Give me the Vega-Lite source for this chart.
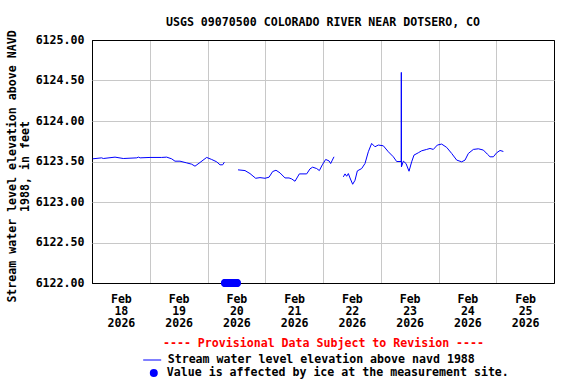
{
  "$schema": "https://vega.github.io/schema/vega-lite/v6.json",
  "width": 462,
  "height": 243,
  "autosize": {"type": "none"},
  "padding": {"left": 92, "top": 40, "right": 22, "bottom": 101},
  "background": "white",
  "title": {
    "text": "USGS 09070500 COLORADO RIVER NEAR DOTSERO, CO",
    "font": "DejaVu Sans Mono",
    "fontSize": 11.6,
    "fontWeight": "bold",
    "color": "black",
    "anchor": "middle",
    "frame": "group",
    "offset": 1
  },
  "config": {
    "view": {"stroke": "black", "strokeWidth": 1},
    "axis": {
      "labelFont": "DejaVu Sans Mono",
      "labelFontSize": 11.6,
      "labelFontWeight": "bold",
      "labelColor": "black",
      "titleFont": "DejaVu Sans Mono",
      "titleFontSize": 11.6,
      "titleFontWeight": "bold",
      "titleColor": "black",
      "gridWidth": 1,
      "gridOpacity": 1,
      "ticks": false,
      "domain": false
    }
  },
  "datasets": {
    "line": [
      {"t": "2026-02-18T00:17:00", "v": 6123.533, "s": 1},
      {"t": "2026-02-18T04:00:00", "v": 6123.545, "s": 1},
      {"t": "2026-02-18T04:42:00", "v": 6123.537, "s": 1},
      {"t": "2026-02-18T09:34:00", "v": 6123.554, "s": 1},
      {"t": "2026-02-18T13:00:00", "v": 6123.537, "s": 1},
      {"t": "2026-02-18T18:36:00", "v": 6123.545, "s": 1},
      {"t": "2026-02-18T19:18:00", "v": 6123.554, "s": 1},
      {"t": "2026-02-18T20:00:00", "v": 6123.545, "s": 1},
      {"t": "2026-02-19T00:06:00", "v": 6123.550, "s": 1},
      {"t": "2026-02-19T04:57:00", "v": 6123.550, "s": 1},
      {"t": "2026-02-19T07:02:00", "v": 6123.554, "s": 1},
      {"t": "2026-02-19T09:06:00", "v": 6123.533, "s": 1},
      {"t": "2026-02-19T10:29:00", "v": 6123.504, "s": 1},
      {"t": "2026-02-19T12:34:00", "v": 6123.504, "s": 1},
      {"t": "2026-02-19T15:20:00", "v": 6123.483, "s": 1},
      {"t": "2026-02-19T17:25:00", "v": 6123.467, "s": 1},
      {"t": "2026-02-19T18:48:00", "v": 6123.442, "s": 1},
      {"t": "2026-02-19T20:53:00", "v": 6123.488, "s": 1},
      {"t": "2026-02-19T23:39:00", "v": 6123.550, "s": 1},
      {"t": "2026-02-20T01:44:00", "v": 6123.525, "s": 1},
      {"t": "2026-02-20T03:49:00", "v": 6123.496, "s": 1},
      {"t": "2026-02-20T05:12:00", "v": 6123.459, "s": 1},
      {"t": "2026-02-20T06:18:00", "v": 6123.459, "s": 1},
      {"t": "2026-02-20T07:00:00", "v": 6123.492, "s": 1},
      {"t": "2026-02-20T12:41:00", "v": 6123.397, "s": 2},
      {"t": "2026-02-20T15:35:00", "v": 6123.388, "s": 2},
      {"t": "2026-02-20T17:40:00", "v": 6123.351, "s": 2},
      {"t": "2026-02-20T20:01:00", "v": 6123.293, "s": 2},
      {"t": "2026-02-20T21:49:00", "v": 6123.301, "s": 2},
      {"t": "2026-02-20T23:54:00", "v": 6123.293, "s": 2},
      {"t": "2026-02-21T01:34:00", "v": 6123.306, "s": 2},
      {"t": "2026-02-21T03:05:00", "v": 6123.376, "s": 2},
      {"t": "2026-02-21T04:28:00", "v": 6123.392, "s": 2},
      {"t": "2026-02-21T06:08:00", "v": 6123.359, "s": 2},
      {"t": "2026-02-21T08:13:00", "v": 6123.297, "s": 2},
      {"t": "2026-02-21T09:53:00", "v": 6123.297, "s": 2},
      {"t": "2026-02-21T10:59:00", "v": 6123.285, "s": 2},
      {"t": "2026-02-21T12:22:00", "v": 6123.256, "s": 2},
      {"t": "2026-02-21T14:10:00", "v": 6123.347, "s": 2},
      {"t": "2026-02-21T17:13:00", "v": 6123.347, "s": 2},
      {"t": "2026-02-21T18:36:00", "v": 6123.409, "s": 2},
      {"t": "2026-02-21T19:42:00", "v": 6123.430, "s": 2},
      {"t": "2026-02-21T21:22:00", "v": 6123.413, "s": 2},
      {"t": "2026-02-21T22:29:00", "v": 6123.388, "s": 2},
      {"t": "2026-02-21T23:43:00", "v": 6123.459, "s": 2},
      {"t": "2026-02-22T01:06:00", "v": 6123.525, "s": 2},
      {"t": "2026-02-22T02:29:00", "v": 6123.508, "s": 2},
      {"t": "2026-02-22T03:11:00", "v": 6123.475, "s": 2},
      {"t": "2026-02-22T03:53:00", "v": 6123.517, "s": 2},
      {"t": "2026-02-22T04:34:00", "v": 6123.558, "s": 2},
      {"t": "2026-02-22T08:27:00", "v": 6123.310, "s": 3},
      {"t": "2026-02-22T09:09:00", "v": 6123.347, "s": 3},
      {"t": "2026-02-22T09:50:00", "v": 6123.318, "s": 3},
      {"t": "2026-02-22T10:32:00", "v": 6123.351, "s": 3},
      {"t": "2026-02-22T11:13:00", "v": 6123.297, "s": 3},
      {"t": "2026-02-22T12:20:00", "v": 6123.219, "s": 3},
      {"t": "2026-02-22T13:18:00", "v": 6123.268, "s": 3},
      {"t": "2026-02-22T14:16:00", "v": 6123.384, "s": 3},
      {"t": "2026-02-22T16:04:00", "v": 6123.413, "s": 3},
      {"t": "2026-02-22T17:27:00", "v": 6123.475, "s": 3},
      {"t": "2026-02-22T18:50:00", "v": 6123.620, "s": 3},
      {"t": "2026-02-22T20:13:00", "v": 6123.723, "s": 3},
      {"t": "2026-02-22T21:36:00", "v": 6123.682, "s": 3},
      {"t": "2026-02-22T22:59:00", "v": 6123.703, "s": 3},
      {"t": "2026-02-23T01:04:00", "v": 6123.694, "s": 3},
      {"t": "2026-02-23T03:09:00", "v": 6123.620, "s": 3},
      {"t": "2026-02-23T05:14:00", "v": 6123.558, "s": 3},
      {"t": "2026-02-23T06:37:00", "v": 6123.500, "s": 3},
      {"t": "2026-02-23T08:30:00", "v": 6123.500, "s": 3},
      {"t": "2026-02-23T08:33:00", "v": 6124.600, "s": 3},
      {"t": "2026-02-23T08:36:00", "v": 6123.434, "s": 3},
      {"t": "2026-02-23T09:23:00", "v": 6123.504, "s": 3},
      {"t": "2026-02-23T10:30:00", "v": 6123.475, "s": 3},
      {"t": "2026-02-23T11:45:00", "v": 6123.380, "s": 3},
      {"t": "2026-02-23T12:51:00", "v": 6123.496, "s": 3},
      {"t": "2026-02-23T13:49:00", "v": 6123.579, "s": 3},
      {"t": "2026-02-23T15:37:00", "v": 6123.608, "s": 3},
      {"t": "2026-02-23T17:00:00", "v": 6123.632, "s": 3},
      {"t": "2026-02-23T19:05:00", "v": 6123.649, "s": 3},
      {"t": "2026-02-23T20:28:00", "v": 6123.661, "s": 3},
      {"t": "2026-02-23T21:51:00", "v": 6123.649, "s": 3},
      {"t": "2026-02-23T23:31:00", "v": 6123.703, "s": 3},
      {"t": "2026-02-24T01:19:00", "v": 6123.715, "s": 3},
      {"t": "2026-02-24T03:24:00", "v": 6123.674, "s": 3},
      {"t": "2026-02-24T05:29:00", "v": 6123.599, "s": 3},
      {"t": "2026-02-24T07:34:00", "v": 6123.517, "s": 3},
      {"t": "2026-02-24T09:38:00", "v": 6123.496, "s": 3},
      {"t": "2026-02-24T11:01:00", "v": 6123.517, "s": 3},
      {"t": "2026-02-24T12:24:00", "v": 6123.599, "s": 3},
      {"t": "2026-02-24T14:29:00", "v": 6123.649, "s": 3},
      {"t": "2026-02-24T16:34:00", "v": 6123.657, "s": 3},
      {"t": "2026-02-24T18:39:00", "v": 6123.641, "s": 3},
      {"t": "2026-02-24T20:18:00", "v": 6123.591, "s": 3},
      {"t": "2026-02-24T21:25:00", "v": 6123.558, "s": 3},
      {"t": "2026-02-24T22:48:00", "v": 6123.558, "s": 3},
      {"t": "2026-02-25T00:11:00", "v": 6123.608, "s": 3},
      {"t": "2026-02-25T01:34:00", "v": 6123.636, "s": 3},
      {"t": "2026-02-25T02:57:00", "v": 6123.624, "s": 3}
    ],
    "ice": [
      {"t": "2026-02-20T07:15:00", "v": 6122.0},
      {"t": "2026-02-20T07:30:00", "v": 6122.0},
      {"t": "2026-02-20T07:45:00", "v": 6122.0},
      {"t": "2026-02-20T08:00:00", "v": 6122.0},
      {"t": "2026-02-20T08:15:00", "v": 6122.0},
      {"t": "2026-02-20T08:30:00", "v": 6122.0},
      {"t": "2026-02-20T08:45:00", "v": 6122.0},
      {"t": "2026-02-20T09:00:00", "v": 6122.0},
      {"t": "2026-02-20T09:15:00", "v": 6122.0},
      {"t": "2026-02-20T09:30:00", "v": 6122.0},
      {"t": "2026-02-20T09:45:00", "v": 6122.0},
      {"t": "2026-02-20T10:00:00", "v": 6122.0},
      {"t": "2026-02-20T10:15:00", "v": 6122.0},
      {"t": "2026-02-20T10:30:00", "v": 6122.0},
      {"t": "2026-02-20T10:45:00", "v": 6122.0},
      {"t": "2026-02-20T11:00:00", "v": 6122.0},
      {"t": "2026-02-20T11:15:00", "v": 6122.0},
      {"t": "2026-02-20T11:30:00", "v": 6122.0},
      {"t": "2026-02-20T11:45:00", "v": 6122.0},
      {"t": "2026-02-20T12:00:00", "v": 6122.0},
      {"t": "2026-02-20T12:15:00", "v": 6122.0}
    ]
  },
  "layer": [
    {
      "data": {"name": "line"},
      "mark": {"type": "line", "strokeWidth": 1, "clip": false},
      "encoding": {
        "x": {
          "field": "t",
          "type": "temporal",
          "scale": {"domain": [{"year": 2026, "month": 2, "date": 18}, {"year": 2026, "month": 2, "date": 26}]},
          "axis": {
            "values": [
              {"year": 2026, "month": 2, "date": 18},
              {"year": 2026, "month": 2, "date": 19},
              {"year": 2026, "month": 2, "date": 20},
              {"year": 2026, "month": 2, "date": 21},
              {"year": 2026, "month": 2, "date": 22},
              {"year": 2026, "month": 2, "date": 23},
              {"year": 2026, "month": 2, "date": 24},
              {"year": 2026, "month": 2, "date": 25}
            ],
            "grid": true,
            "gridColor": {"condition": {"test": "+datum.value <= +datetime(2026, 1, 18, 1)", "value": "black"}, "value": "#c8c8c8"},
            "labelExpr": "[timeFormat(datum.value, '%b'), timeFormat(datum.value, '%d'), timeFormat(datum.value, '%Y')]",
            "labelOffset": 28.875,
            "labelPadding": 10,
            "labelLineHeight": 12,
            "labelAlign": "center",
            "labelBaseline": "top",
            "labelFlush": false,
            "labelOverlap": false,
            "title": "---- Provisional Data Subject to Revision ----",
            "titleColor": "#ff0000",
            "titleY": 60,
            "titleBaseline": "middle"
          }
        },
        "y": {
          "field": "v",
          "type": "quantitative",
          "scale": {"domain": [6122, 6125], "zero": false, "nice": false},
          "axis": {
            "values": [6122, 6122.5, 6123, 6123.5, 6124, 6124.5, 6125],
            "format": ".2f",
            "grid": true,
            "gridColor": {"condition": {"test": "datum.value <= 6122 || datum.value >= 6125", "value": "black"}, "value": "#c8c8c8"},
            "labelPadding": 8,
            "labelFlush": false,
            "labelOverlap": false,
            "title": ["Stream water level elevation above NAVD", "1988, in feet"],
            "titleAngle": -90,
            "titleX": -86,
            "titleY": 126,
            "titleAlign": "center",
            "titleBaseline": "top",
            "titleLineHeight": 13
          }
        },
        "detail": {"field": "s", "type": "nominal"},
        "stroke": {
          "datum": "Stream water level elevation above navd 1988",
          "type": "nominal",
          "scale": {"range": ["#0000ff"]},
          "legend": {
            "orient": "none",
            "legendX": 50.7,
            "legendY": 310.5,
            "title": null,
            "padding": 0,
            "symbolType": "stroke",
            "symbolSize": 324,
            "symbolStrokeWidth": 1,
            "labelFont": "DejaVu Sans Mono",
            "labelFontSize": 11.6,
            "labelFontWeight": "bold",
            "labelColor": "black",
            "labelOffset": 6,
            "labelLimit": 500
          }
        }
      }
    },
    {
      "data": {"name": "ice"},
      "mark": {"type": "point", "filled": true, "shape": "circle", "size": 64, "opacity": 1, "strokeWidth": 0, "clip": false},
      "encoding": {
        "x": {"field": "t", "type": "temporal"},
        "y": {"field": "v", "type": "quantitative"},
        "fill": {
          "datum": "Value is affected by ice at the measurement site.",
          "type": "nominal",
          "scale": {"range": ["#0000ff"]},
          "legend": {
            "orient": "none",
            "legendX": 56,
            "legendY": 327.2,
            "title": null,
            "padding": 0,
            "symbolType": "circle",
            "symbolSize": 64,
            "symbolStrokeWidth": 0,
            "labelFont": "DejaVu Sans Mono",
            "labelFontSize": 11.6,
            "labelFontWeight": "bold",
            "labelColor": "black",
            "labelOffset": 7.2,
            "labelLimit": 500
          }
        }
      }
    }
  ]
}
